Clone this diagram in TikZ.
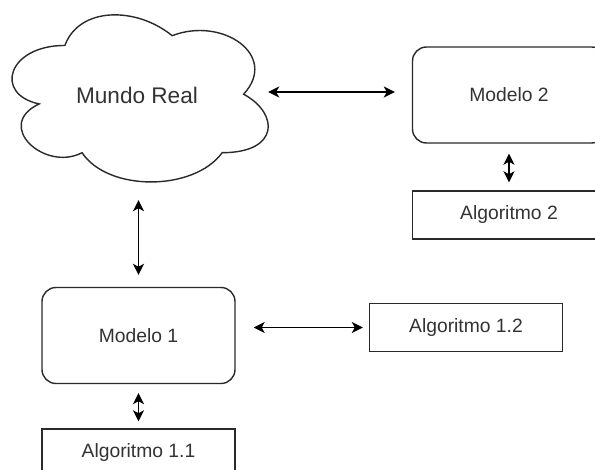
\documentclass[tikz,border=0pt]{standalone}
\usepackage{fontspec}
\setmainfont{Liberation Sans}
\usetikzlibrary{arrows.meta,calc}
\definecolor{inkgray}{HTML}{333333}
\definecolor{linegray}{HTML}{2A2A2A}
\tikzset{
  boxlabel/.style={font=\fontsize{19.3}{23}\selectfont, text=inkgray},
  roundbox/.style={boxlabel, draw=linegray, line width=1.4pt, rounded corners=14pt,
    minimum width=193pt, minimum height=96pt, inner sep=0pt},
  algobox/.style={boxlabel, draw=linegray, line width=1.4pt,
    minimum width=193pt, minimum height=48pt, inner sep=0pt},
  cloudlabel/.style={font=\fontsize{22.6}{27}\selectfont, text=inkgray,
    minimum width=256pt, minimum height=167pt, inner sep=0pt},
  biarrow/.style={line width=1.4pt, black,
    {Stealth[length=11pt,width=11pt,inset=3pt]}-{Stealth[length=11pt,width=11pt,inset=3pt]}}
}
\begin{document}
\begin{tikzpicture}[x=1pt,y=-1pt]
  \useasboundingbox (0,0) rectangle (595,470);
  \clip (0,0) rectangle (595,470);
  \fill[white] (0,0) rectangle (595,470);

  % cloud outline, drawn in a unit box
  \begin{scope}[shift={(-6.6,-3.3)}, x=286pt, y=-195pt]
    \draw[linegray, line width=1.4pt, fill=white]
      (0.25,0.25)
      .. controls (0.05,0.25) and (0,0.5) .. (0.16,0.55)
      .. controls (0,0.66) and (0.18,0.9) .. (0.31,0.8)
      .. controls (0.4,1) and (0.7,1) .. (0.8,0.8)
      .. controls (1,0.8) and (1,0.6) .. (0.875,0.5)
      .. controls (1,0.3) and (0.8,0.1) .. (0.625,0.2)
      .. controls (0.5,0.05) and (0.3,0.05) .. (0.25,0.25) -- cycle;
  \end{scope}
  \node[cloudlabel] (real) at (137,95) {Mundo Real};

  % models and algorithms
  \node[roundbox] (m2) at (509,95) {Modelo 2};
  \node[algobox] (a2) at (509,215) {Algoritmo 2};
  \node[roundbox] (m1) at (138.5,335.5) {Modelo 1};
  \node[algobox] (a12) at (466,327.5) {Algoritmo 1.2};
  \node[algobox] (a11) at (138.5,453) {Algoritmo 1.1};

  % connectors
  \draw[biarrow, shorten <=3pt, shorten >=17pt]
    ([yshift=3pt]real.east) -- ([yshift=3pt]m2.west);
  \draw[biarrow, shorten <=21.5pt, shorten >=12pt]
    (real.south -| m1.north) -- (m1.north);
  \draw[biarrow, shorten <=18pt, shorten >=6pt]
    (m1.east |- a12.west) -- (a12.west);
  \draw[biarrow, shorten <=10pt, shorten >=8pt] (m2.south) -- (a2.north);
  \draw[biarrow, shorten <=9pt, shorten >=7pt] (m1.south) -- (a11.north);
\end{tikzpicture}
\end{document}
